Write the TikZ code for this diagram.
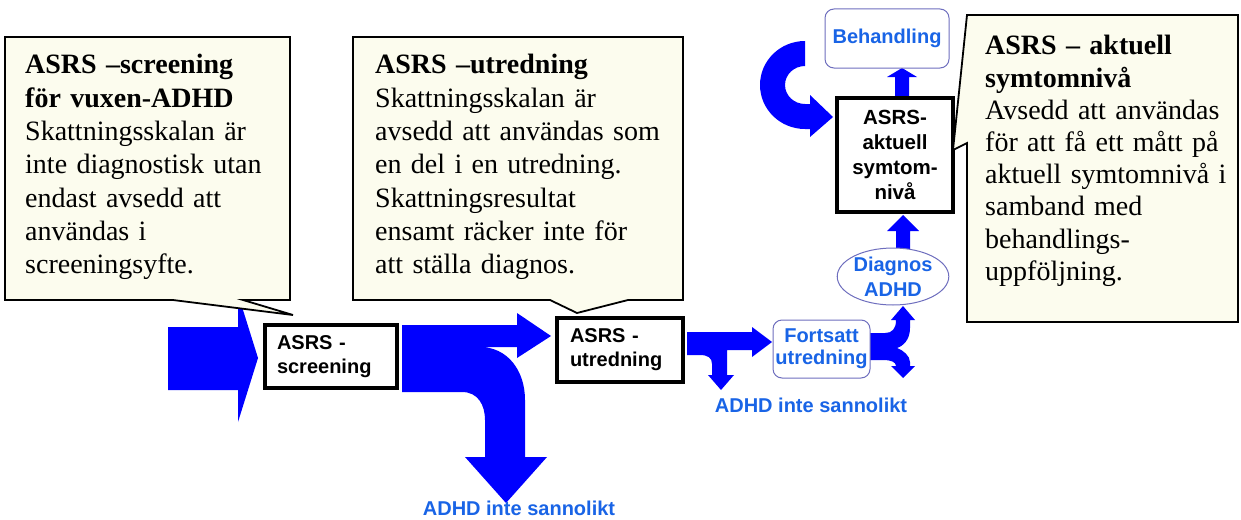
\documentclass[tikz,border=0pt]{standalone}
\usepackage{fontspec}
\setmainfont{Liberation Serif}
\newfontfamily\arialf{Liberation Sans}
\usetikzlibrary{shapes.geometric}
\definecolor{arrowblue}{RGB}{0,0,255}
\definecolor{labelblue}{RGB}{25,100,230}
\definecolor{thinborder}{RGB}{110,110,190}
\definecolor{cream}{RGB}{252,252,238}
\begin{document}
\begin{tikzpicture}[x=1pt,y=-1pt,
  blockarrow/.style={fill=arrowblue, draw=none},
  callout/.style={fill=cream, draw=black, line width=1.8pt, line join=miter},
  callouttext/.style={anchor=base west, inner sep=0pt, text width=300pt, align=left, font=\fontsize{28}{33.3}\selectfont},
  flowbox/.style={draw=black, line width=4pt, fill=white, inner sep=0pt, font=\arialf\bfseries\fontsize{20}{24}\selectfont},
  softbox/.style={draw=thinborder, line width=1pt, fill=white, rounded corners=9pt, inner sep=0pt, text=labelblue, align=center, font=\arialf\bfseries\fontsize{20}{22}\selectfont},
  bluelabel/.style={inner sep=0pt, text=labelblue, font=\arialf\bfseries\fontsize{20}{22}\selectfont}
]
\useasboundingbox (0,0) rectangle (1241,519);

% block arrows
\fill[blockarrow] (168,327) -- (238,327) -- (238,294) -- (258,358) -- (238,422) -- (238,390) -- (168,390) -- cycle;
\fill[blockarrow] (402,325) -- (517,325) -- (517,313) -- (551,336) -- (517,358) -- (517,347) -- (480,347)
  .. controls (507,347) and (525,370) .. (525,400) -- (525,457) -- (547,457) -- (506,503) -- (465,457) -- (485,457) -- (485,420)
  .. controls (485,405) and (478,392) .. (462,392) -- (402,392) -- cycle;
\fill[blockarrow] (687,332) -- (752,332) -- (752,327) -- (772,342) -- (752,357) -- (752,350) -- (727,350) -- (727,375) -- (734,375) -- (721,390) -- (708,375) -- (712,375) -- (712,364)
  .. controls (712,358) and (708,355) .. (700,355) -- (687,355) -- cycle;
\fill[blockarrow] (866,333) -- (885,333) .. controls (892,333) and (896,329) .. (896,320) -- (891,320) -- (903,306) -- (915,320) -- (910,320) -- (910,328)
  .. controls (910,340) and (903,346) .. (897,348) .. controls (903,350) and (910,356) .. (910,362) -- (910,366) -- (915,366) -- (903,378) -- (891,366) -- (896,366)
  .. controls (896,362) and (891,360) .. (883,360) -- (866,360) -- cycle;
\fill[blockarrow] (896,252) -- (896,231) -- (887,231) -- (903,215) -- (919,231) -- (910,231) -- (910,252) -- cycle;
\fill[blockarrow] (895,100) -- (895,77) -- (887,77) -- (902,68) -- (917,77) -- (909,77) -- (909,100) -- cycle;
\fill[blockarrow] (805,41) .. controls (780.1,41) and (760,60.7) .. (760,85) .. controls (760,109.3) and (780.1,129) .. (805,129) -- (810,129) -- (810,137) -- (833,117) -- (810,95) -- (810,104) -- (805,104)
  .. controls (794,104) and (785,95.5) .. (785,85) .. controls (785,74.5) and (794,66) .. (805,66) -- cycle;

% flow nodes
\node[flowbox, minimum width=132pt, minimum height=63pt, text width=108pt, align=left] (scr) at (331,356.5) {ASRS -\\screening};
\node[flowbox, minimum width=126pt, minimum height=64pt, text width=100pt, align=left] (utr) at (620,350) {ASRS -\\utredning};
\node[flowbox, minimum width=116pt, minimum height=114pt, align=center, font=\arialf\bfseries\fontsize{20.5}{25}\selectfont] (akt) at (895,155) {ASRS-\\aktuell\\symtom-\\nivå};
\node[softbox, minimum width=124pt, minimum height=59pt] (beh) at (887,38.5) {Behandling};
\node[softbox, ellipse, minimum width=110pt, minimum height=57pt, font=\arialf\bfseries\fontsize{20}{25}\selectfont] (diag) at (893,276.5) {Diagnos\\ADHD};
\node[softbox, minimum width=97pt, minimum height=58pt] (forts) at (821.5,349) {Fortsatt\\utredning};
\node[bluelabel, anchor=base] (nl1) at (519,515) {ADHD inte sannolikt};
\node[bluelabel, anchor=base] (nl2) at (811,412) {ADHD inte sannolikt};

% callouts
\draw[callout] (5,37) -- (290,37) -- (290,300) -- (243,300) -- (293,315) -- (173,300) -- (5,300) -- cycle;
\node[callouttext] (c1t) at (25,74) {\textbf{ASRS –screening}\\\textbf{för vuxen-ADHD}\\Skattningsskalan är\\inte diagnostisk utan\\endast avsedd att\\användas i\\screeningsyfte.};
\draw[callout] (353,37) -- (683,37) -- (683,300) -- (628,300) -- (577,313) -- (550,300) -- (353,300) -- cycle;
\node[callouttext] (c2t) at (375,74) {\textbf{ASRS –utredning}\\Skattningsskalan är\\avsedd att användas som\\en del i en utredning.\\Skattningsresultat\\ensamt räcker inte för\\att ställa diagnos.};
\draw[callout] (967,15) -- (1238,15) -- (1238,322) -- (967,322) -- (967,143) -- (953,150) -- cycle;
\node[callouttext, font=\fontsize{28}{32.2}\selectfont] (c3t) at (985,55) {\textbf{ASRS – aktuell}\\\textbf{symtomnivå}\\Avsedd att användas\\för att få ett mått på\\aktuell symtomnivå i\\samband med\\behandlings-\\uppföljning.};
\end{tikzpicture}
\end{document}
